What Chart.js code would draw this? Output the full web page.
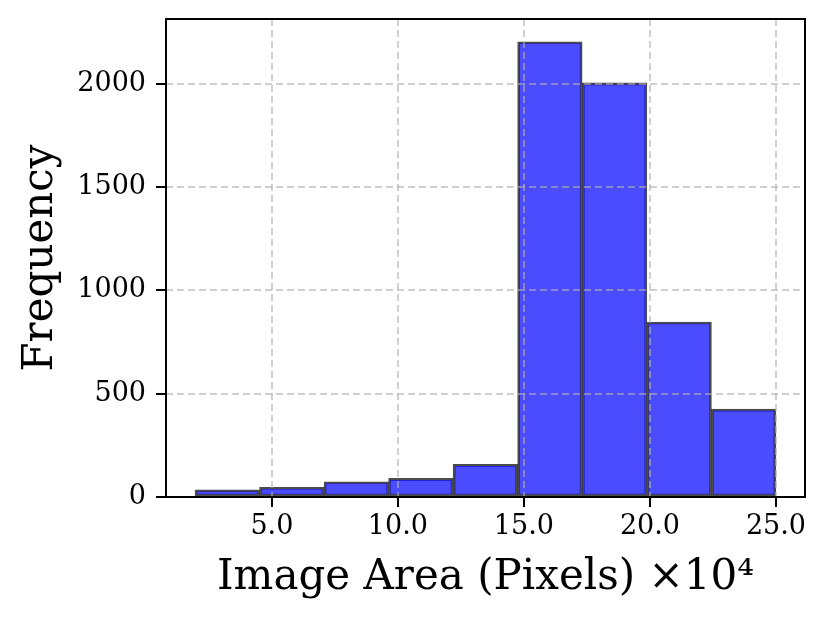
<!DOCTYPE html>
<html>
<head>
<meta charset="utf-8">
<script src="https://cdn.jsdelivr.net/npm/chart.js@4"></script>
<style>
  body { margin: 0; background: #fff; }
  canvas { display: block; }
</style>
</head>
<body>
<canvas id="chart" width="829" height="628"></canvas>
<script>
// histogram bins (x in units of 10^4 pixels)
const binEdges = [1.95, 4.51, 7.07, 9.63, 12.19, 14.75, 17.31, 19.88, 22.44, 25.0];
const counts = [35, 47, 74, 90, 158, 2203, 2004, 847, 425];
const xTicks = [5, 10, 15, 20, 25];
const yTicks = [0, 500, 1000, 1500, 2000];

const points = counts.map((c, i) => ({ x: (binEdges[i] + binEdges[i + 1]) / 2, y: c }));

const span = binEdges[binEdges.length - 1] - binEdges[0];
const xMin = binEdges[0] - span * 0.05;
const xMax = binEdges[binEdges.length - 1] + span * 0.05;
const yMax = Math.max(...counts) * 1.05;

const serif = 'DejaVu Serif';

// matplotlib draws a box round the axes
const frame = {
    id: 'frame',
    afterDraw(chart) {
        const { ctx, chartArea: a } = chart;
        ctx.save();
        ctx.strokeStyle = '#000';
        ctx.lineWidth = 2;
        ctx.strokeRect(a.left, a.top, a.right - a.left, a.bottom - a.top);
        ctx.restore();
    }
};

const grid = {
    z: 1,
    color: 'rgba(176,176,176,0.6)',
    lineWidth: 2,
    tickColor: '#000',
    tickWidth: 2,
    tickLength: 10,
    offset: false
};

new Chart(document.getElementById('chart'), {
    type: 'bar',
    data: {
        datasets: [{
            data: points,
            backgroundColor: 'rgba(0,0,255,0.7)',
            borderColor: 'rgba(0,0,0,0.7)',
            borderWidth: 2,
            borderSkipped: false,
            barPercentage: 1,
            categoryPercentage: 1
        }]
    },
    options: {
        responsive: false,
        devicePixelRatio: 1,
        animation: false,
        layout: { padding: { left: 0, right: 24, top: 19, bottom: 0 } },
        plugins: { legend: { display: false }, tooltip: { enabled: false } },
        scales: {
            x: {
                type: 'linear',
                offset: false,
                min: xMin,
                max: xMax,
                grid: grid,
                border: { display: false, dash: [7, 4] },
                afterBuildTicks: s => { s.ticks = xTicks.map(v => ({ value: v })); },
                afterFit: s => { s.height = 131; s.paddingLeft = 0; s.paddingRight = 0; },
                ticks: {
                    color: '#000',
                    padding: 4,
                    maxRotation: 0,
                    font: { family: serif, size: 27 },
                    callback: v => v.toFixed(1)
                },
                title: {
                    display: true,
                    text: 'Image Area (Pixels) ×10⁴',
                    color: '#000',
                    font: { family: serif, size: 42 },
                    padding: { top: 0, bottom: 25 }
                }
            },
            y: {
                min: 0,
                max: yMax,
                grid: grid,
                border: { display: false, dash: [7, 4] },
                afterBuildTicks: s => { s.ticks = yTicks.map(v => ({ value: v })); },
                afterFit: s => { s.width = 166; s.paddingTop = 0; s.paddingBottom = 0; },
                ticks: {
                    color: '#000',
                    padding: 10,
                    font: { family: serif, size: 27 },
                    callback: v => String(v)
                },
                title: {
                    display: true,
                    text: 'Frequency',
                    color: '#000',
                    font: { family: serif, size: 42 },
                    padding: { top: 16, bottom: 0 }
                }
            }
        }
    },
    plugins: [frame]
});
</script>
</body>
</html>
